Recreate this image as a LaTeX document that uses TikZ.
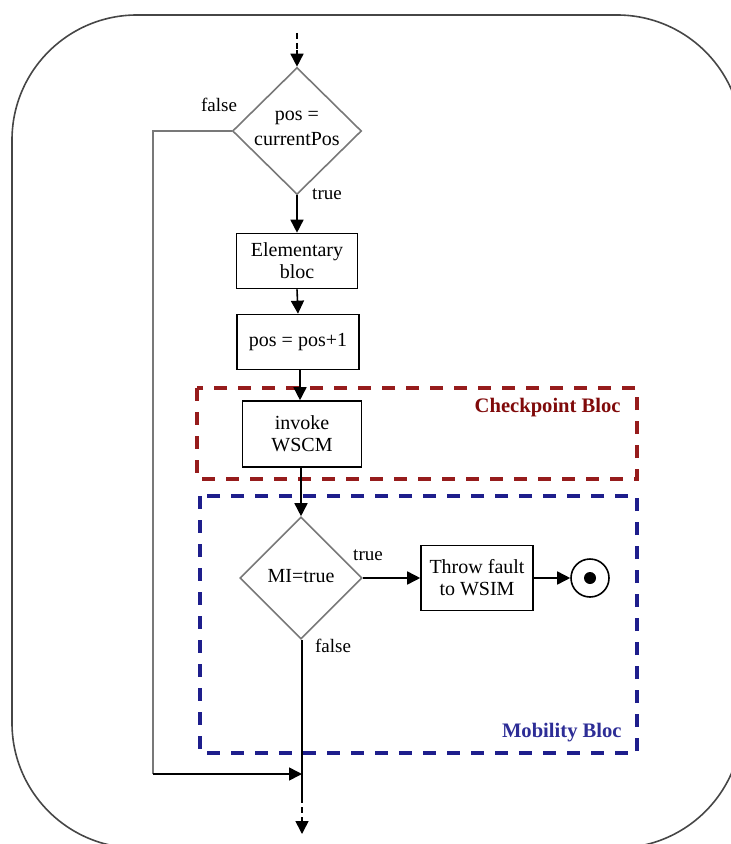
\documentclass[tikz,border=0pt]{standalone}
\usepackage{fontspec}
\setmainfont{Liberation Serif}
\usetikzlibrary{shapes.geometric,arrows.meta}
\definecolor{framegray}{RGB}{70,70,70}
\definecolor{diagray}{RGB}{120,120,120}
\definecolor{ckred}{RGB}{150,28,28}
\definecolor{ckredtext}{RGB}{128,10,10}
\definecolor{mobblue}{RGB}{30,30,140}
\definecolor{mobbluetext}{RGB}{45,45,150}
\tikzset{
  flow/.style={draw=black, line width=0.8pt, -{Triangle[length=6.5pt,width=6.5pt]}},
  plainline/.style={draw=black, line width=0.8pt},
  decision/.style={diamond, aspect=1, draw=diagray, line width=0.8pt, inner sep=0pt},
  stepbox/.style={rectangle, draw=black, line width=0.8pt, inner sep=0pt,
    align=center, font=\fontsize{10}{11}\selectfont},
  dtext/.style={align=center, inner sep=0pt, font=\fontsize{10}{12.5}\selectfont},
  branch/.style={inner sep=0pt, font=\fontsize{9.5}{11}\selectfont},
  blocframe/.style={line width=1.6pt, dash pattern=on 6.5pt off 5.5pt},
  blocname/.style={inner sep=0pt, font=\bfseries\fontsize{10.3}{12}\selectfont, anchor=east}
}
\begin{document}
\begin{tikzpicture}[x=0.5pt,y=-0.5pt]
  \useasboundingbox (0,0) rectangle (731,844);
  \clip (0,0) rectangle (731,844);

  % outer rounded frame
  \draw[framegray, line width=0.8pt, rounded corners=62.5pt] (12,15) rectangle (742,848);

  % dashed bloc frames
  \draw[ckred, blocframe] (197,388) rectangle (637,479);
  \node[blocname, text=ckredtext] (cklabel) at (621,408) {Checkpoint Bloc};
  \draw[mobblue, blocframe] (200,496) rectangle (637,753);
  \node[blocname, text=mobbluetext] (moblabel) at (622,733) {Mobility Bloc};

  % flow nodes
  \node[decision, minimum width=64.5pt, minimum height=63.5pt] (d1) at (297,131) {};
  \node[dtext] (d1t) at (297,128) {pos =\\currentPos};
  \node[stepbox, minimum width=60.5pt, minimum height=27.5pt] (elem) at (297,261) {Elementary\\bloc};
  \node[stepbox, minimum width=61pt, minimum height=27.5pt] (inc) at (298,342) {pos = pos+1};
  \node[stepbox, minimum width=59.5pt, minimum height=33pt] (inv) at (302,434) {invoke\\WSCM};
  \node[decision, minimum width=61pt, minimum height=61pt] (d2) at (301,578) {};
  \node[dtext] (d2t) at (301,576) {MI=true};
  \node[stepbox, minimum width=56pt, minimum height=32.5pt] (throw) at (477,578) {Throw fault\\to WSIM};
  \node[circle, draw=black, line width=0.8pt, minimum size=19pt, inner sep=0pt] (endc) at (590,578) {};
  \node[circle, fill=black, minimum size=6pt, inner sep=0pt] (enddot) at (endc) {};

  % branch labels
  \node[branch] (f1) at (219,105) {false};
  \node[branch] (t1) at (327,194) {true};
  \node[branch] (t2) at (368,555) {true};
  \node[branch] (f2) at (333,646) {false};

  % helper points
  \coordinate (inA) at (297,33);
  \coordinate (inB) at (297,50);
  \coordinate (loopBL) at (153,774);
  \coordinate (join) at (302,774);
  \coordinate (exA) at (302,797);
  \coordinate (exB) at (302,818);
  \coordinate (exC) at (302,834);

  % connectors
  \draw[plainline, dash pattern=on 3pt off 2pt] (inA) -- (inB);
  \draw[flow] (inB) -- (d1.north);
  \draw[flow] (d1.south) -- (elem.north);
  \draw[flow] (elem.south) -- (inc.north);
  \draw[flow] (inc.south -| 300,0) -- (inv.north -| 300,0);
  \draw[flow] (inv.south -| 301,0) -- (d2.north);
  \draw[flow] (d2.east) -- (throw.west);
  \draw[flow] (throw.east) -- (endc.west);
  \draw[plainline, draw=diagray] (d1.west) -| (loopBL);
  \draw[flow] (loopBL) -- (join);
  \draw[plainline] (d2.south -| exA) -- (exA);
  \draw[plainline, dash pattern=on 3pt off 2pt] (exA) -- (exB);
  \draw[flow] (exB) -- (exC);
\end{tikzpicture}
\end{document}
